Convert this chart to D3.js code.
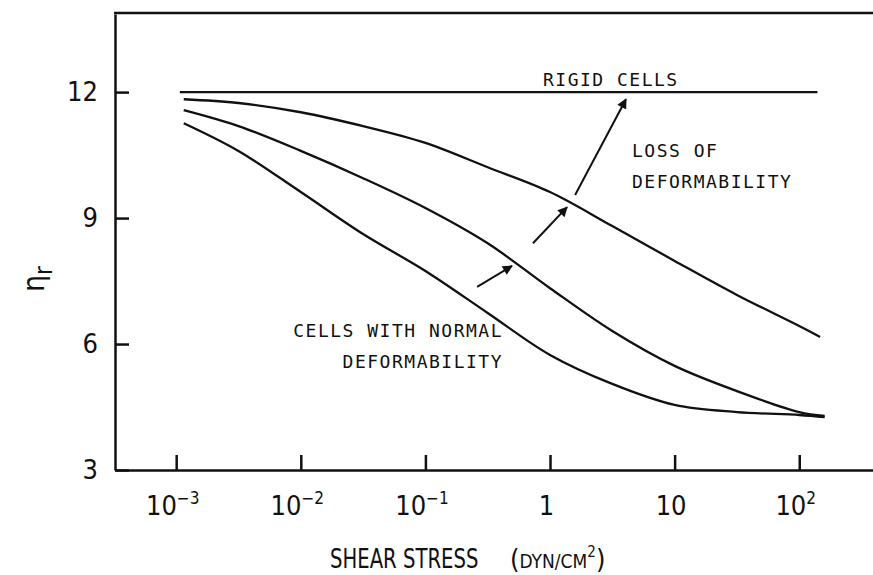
<!DOCTYPE html>
<html>
<head>
<meta charset="utf-8">
<script src="https://cdn.jsdelivr.net/npm/d3@7"></script>
<style>
  body { margin: 0; background: #fff; }
  svg { display: block; }
  .lbl { font-family: "DejaVu Sans Mono", monospace; font-size: 18px; letter-spacing: 1.5px; fill: #111; }
  .num { font-family: "Liberation Sans Narrow", "DejaVu Sans Condensed", "Liberation Sans", sans-serif; fill: #111; }
</style>
</head>
<body>
<div id="chart"></div>
<script>
var svgWidth = 873;
var svgHeight = 575;

// shear stress (dyn/cm2) sample points along the curves
var stress = [0.00115, 0.00316, 0.01, 0.0316, 0.1, 0.316, 1, 3.16, 10, 31.6, 100, 160];
// relative viscosity, loss of deformability (top curve)
var lossStress = [0.00115, 0.00316, 0.01, 0.0316, 0.1, 0.316, 1, 3.16, 10, 31.6, 100, 147];
var lossValues = [11.83, 11.74, 11.52, 11.19, 10.79, 10.21, 9.62, 8.81, 7.98, 7.17, 6.43, 6.17];
// intermediate curve
var midValues = [11.57, 11.19, 10.6, 9.95, 9.24, 8.4, 7.33, 6.31, 5.48, 4.88, 4.38, 4.29];
// cells with normal deformability (bottom curve)
var normalValues = [11.26, 10.6, 9.62, 8.62, 7.74, 6.74, 5.74, 5.05, 4.55, 4.38, 4.31, 4.26];
// rigid cells
var rigidStress = [0.00107, 140];
var rigidValues = [12, 12];

var xTicks = [0.001, 0.01, 0.1, 1, 10, 100];
var xTickBase = ["10", "10", "10", "1", "10", "10"];
var xTickExp = ["\u22123", "\u22122", "\u22121", "", "", "2"];
var yTicks = [3, 6, 9, 12];

// arrows: [tail stress, tail value, head stress, head value]
var arrows = [
  [0.26, 7.36, 0.495, 7.86],
  [0.73, 8.40, 1.37, 9.26],
  [1.59, 9.55, 4.07, 11.83]
];

var svg = d3.select("#chart")
    .append("svg")
    .attr("width", svgWidth)
    .attr("height", svgHeight);

var x = d3.scaleLog()
    .domain([Math.pow(10, -3.491), Math.pow(10, 2.592)])
    .range([115, 873]);

var y = d3.scaleLinear()
    .domain([3, 13.86])
    .range([470, 14]);

// arrow head
svg.append("defs").append("marker")
    .attr("id", "head")
    .attr("viewBox", "0 0 10 10")
    .attr("refX", 9)
    .attr("refY", 5)
    .attr("markerWidth", 14)
    .attr("markerHeight", 10)
    .attr("markerUnits", "userSpaceOnUse")
    .attr("orient", "auto")
    .append("path")
    .attr("d", "M0,0 L10,5 L0,10 z")
    .attr("fill", "#111");

// bottom axis
var xAxis = svg.append("g")
    .attr("transform", "translate(0,470)")
    .call(d3.axisBottom(x).tickValues(xTicks).tickSize(-15).tickSizeOuter(0).tickFormat(""));

xAxis.selectAll(".tick").each(function(d, i) {
    var t = d3.select(this).append("text")
        .attr("class", "num")
        .attr("x", -4)
        .attr("y", 45)
        .attr("text-anchor", "middle")
        .attr("font-size", "27px");
    t.append("tspan").text(xTickBase[i]);
    if (xTickExp[i]) {
        t.append("tspan").text(xTickExp[i]).attr("font-size", "17px").attr("dy", -11);
    }
});

// left axis
var yAxis = svg.append("g")
    .attr("transform", "translate(115,0)")
    .call(d3.axisLeft(y).tickValues(yTicks).tickSize(-14).tickSizeOuter(0).tickPadding(17));

yAxis.selectAll(".tick text")
    .attr("class", "num")
    .attr("font-size", "27px")
    .attr("fill", "#111");

svg.selectAll(".domain, .tick line")
    .attr("stroke", "#111")
    .attr("stroke-width", 2.5);

// top border
svg.append("line")
    .attr("x1", 114).attr("x2", 873)
    .attr("y1", y(13.86) - 1).attr("y2", y(13.86) - 1)
    .attr("stroke", "#111")
    .attr("stroke-width", 2.5);

var line = d3.line()
    .x(function(d) { return x(d[0]); })
    .y(function(d) { return y(d[1]); })
    .curve(d3.curveCatmullRom.alpha(0.5));

var series = [
  d3.zip(rigidStress, rigidValues),
  d3.zip(lossStress, lossValues),
  d3.zip(stress, midValues),
  d3.zip(stress, normalValues)
];

svg.selectAll("path.curve")
    .data(series)
    .enter()
    .append("path")
    .attr("class", "curve")
    .attr("d", line)
    .attr("fill", "none")
    .attr("stroke", "#111")
    .attr("stroke-width", 2.3);

svg.selectAll("line.arrow")
    .data(arrows)
    .enter()
    .append("line")
    .attr("class", "arrow")
    .attr("x1", function(d) { return x(d[0]); })
    .attr("y1", function(d) { return y(d[1]); })
    .attr("x2", function(d) { return x(d[2]); })
    .attr("y2", function(d) { return y(d[3]); })
    .attr("stroke", "#111")
    .attr("stroke-width", 2)
    .attr("marker-end", "url(#head)");

// annotations
svg.append("text").attr("class", "lbl").attr("x", 543).attr("y", 86).text("RIGID CELLS");
svg.append("text").attr("class", "lbl").attr("x", 632).attr("y", 157).text("LOSS OF");
svg.append("text").attr("class", "lbl").attr("x", 632).attr("y", 188).text("DEFORMABILITY");
svg.append("text").attr("class", "lbl").attr("x", 503).attr("y", 337).attr("text-anchor", "end").text("CELLS WITH NORMAL");
svg.append("text").attr("class", "lbl").attr("x", 503).attr("y", 368).attr("text-anchor", "end").text("DEFORMABILITY");

// axis titles (narrowed to look like the condensed lettering)
svg.append("text")
    .attr("class", "num")
    .attr("transform", "translate(330,568) scale(0.84,1)")
    .attr("font-size", "26px")
    .text("SHEAR STRESS");

var unit = svg.append("text")
    .attr("class", "num")
    .attr("x", 510)
    .attr("y", 568)
    .attr("font-size", "27px");
unit.append("tspan").text("(");
unit.append("tspan").text("DYN/CM").attr("font-size", "19px");
unit.append("tspan").text("2").attr("font-size", "15px").attr("dy", -11);
unit.append("tspan").text(")").attr("dy", 11);

var yt = svg.append("text")
    .attr("class", "num")
    .attr("transform", "translate(44,292) rotate(-90)")
    .attr("font-size", "30px");
yt.append("tspan").text("\u03b7");
yt.append("tspan").text("r").attr("font-size", "24px").attr("dy", 8);
</script>
</body>
</html>
